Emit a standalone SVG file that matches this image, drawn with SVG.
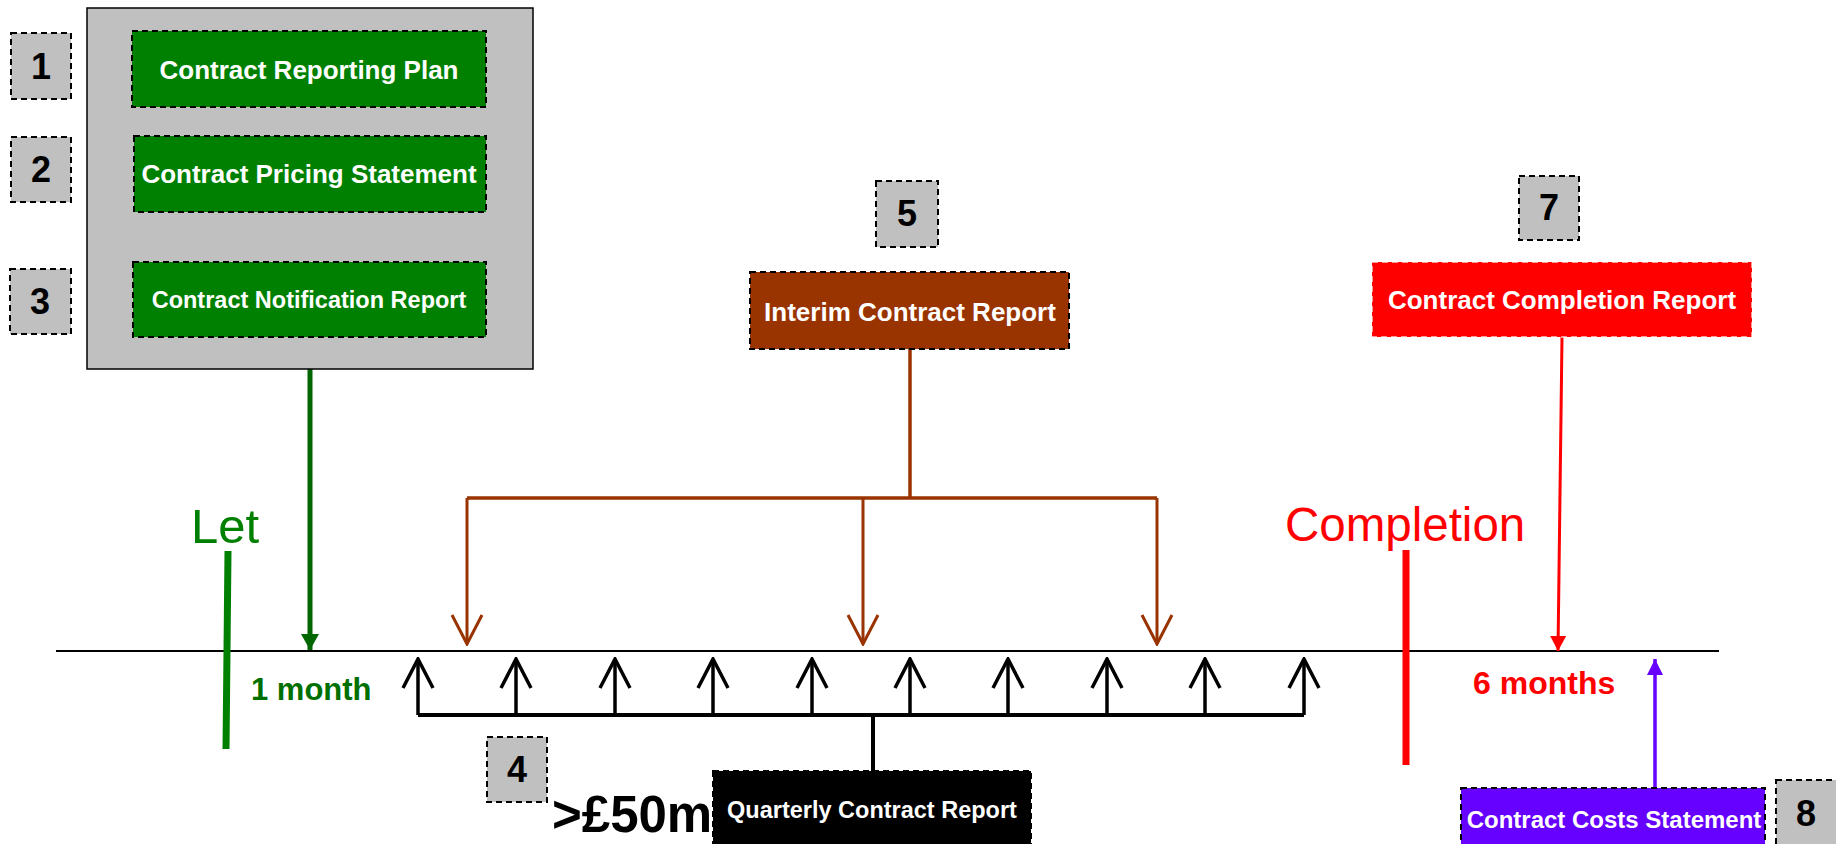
<svg xmlns="http://www.w3.org/2000/svg" width="1836" height="844" viewBox="0 0 1836 844">
<style>
.num{fill:#c0c0c0;stroke:#000;stroke-width:2;stroke-dasharray:6 4}
.numt{font-family:"Liberation Sans",Arial,sans-serif;font-weight:bold;font-size:36px;fill:#000;text-anchor:middle}
.box{stroke:#000;stroke-width:2;stroke-dasharray:6 4}
.bt{font-family:"Liberation Sans",Arial,sans-serif;font-weight:bold;fill:#fff;text-anchor:middle}
.lbl{font-family:"Liberation Sans",Arial,sans-serif}
.ln{fill:none}
</style>
<defs>
<marker id="vBlack" viewBox="-32 -17 34 34" refX="0" refY="0" markerWidth="34" markerHeight="34" markerUnits="userSpaceOnUse" orient="auto">
<path d="M-29,-15 L0,0 L-29,15" fill="none" stroke="#000" stroke-width="3.5"/>
</marker>
<marker id="vBrown" viewBox="-32 -17 34 34" refX="0" refY="0" markerWidth="34" markerHeight="34" markerUnits="userSpaceOnUse" orient="auto">
<path d="M-29,-15 L0,0 L-29,15" fill="none" stroke="#993300" stroke-width="3"/>
</marker>
<marker id="tGreen" viewBox="-18 -10 20 20" refX="0" refY="0" markerWidth="20" markerHeight="20" markerUnits="userSpaceOnUse" orient="auto">
<path d="M-16,-9 L0,0 L-16,9 Z" fill="#006600"/>
</marker>
<marker id="tRed" viewBox="-18 -10 20 20" refX="0" refY="0" markerWidth="20" markerHeight="20" markerUnits="userSpaceOnUse" orient="auto">
<path d="M-15,-8 L0,0 L-15,8 Z" fill="#ff0000"/>
</marker>
<marker id="tPurple" viewBox="-18 -10 20 20" refX="0" refY="0" markerWidth="20" markerHeight="20" markerUnits="userSpaceOnUse" orient="auto">
<path d="M-16,-8 L0,0 L-16,8 Z" fill="#6600ff"/>
</marker>
</defs>
<rect width="1836" height="844" fill="#fff"/>

<g id="connectors">
<line x1="56" y1="651" x2="1719" y2="651" stroke="#000" stroke-width="2"/>
<line x1="310" y1="369" x2="310" y2="650" stroke="#006600" stroke-width="5" marker-end="url(#tGreen)"/>
<path class="ln" d="M910,349 V498 M467,498 H1157" stroke="#993300" stroke-width="3.5"/>
<line x1="467" y1="498" x2="467" y2="644" stroke="#993300" stroke-width="3" marker-end="url(#vBrown)"/>
<line x1="863" y1="498" x2="863" y2="644" stroke="#993300" stroke-width="3" marker-end="url(#vBrown)"/>
<line x1="1157" y1="498" x2="1157" y2="644" stroke="#993300" stroke-width="3" marker-end="url(#vBrown)"/>
<path class="ln" d="M418,715 H1304 M873,715 V771" stroke="#000" stroke-width="4"/>
<g stroke="#000" stroke-width="3.5" marker-end="url(#vBlack)">
<line x1="418" y1="715" x2="418" y2="659"/>
<line x1="516" y1="715" x2="516" y2="659"/>
<line x1="615" y1="715" x2="615" y2="659"/>
<line x1="713" y1="715" x2="713" y2="659"/>
<line x1="812" y1="715" x2="812" y2="659"/>
<line x1="910" y1="715" x2="910" y2="659"/>
<line x1="1008" y1="715" x2="1008" y2="659"/>
<line x1="1107" y1="715" x2="1107" y2="659"/>
<line x1="1205" y1="715" x2="1205" y2="659"/>
<line x1="1304" y1="715" x2="1304" y2="659"/>
</g>
<line x1="1562" y1="337" x2="1558" y2="651" stroke="#ff0000" stroke-width="3" marker-end="url(#tRed)"/>
<line x1="1655" y1="788" x2="1655" y2="659" stroke="#6600ff" stroke-width="3.5" marker-end="url(#tPurple)"/>
</g>

<g id="let">
<line x1="228" y1="551" x2="226" y2="749" stroke="#008000" stroke-width="7"/>
<text class="lbl" x="191" y="543" font-size="49" fill="#008000">Let</text>
<text class="lbl" x="251" y="700" font-size="31" font-weight="bold" fill="#007000">1 month</text>
</g>

<g id="completion">
<line x1="1406" y1="550" x2="1406" y2="765" stroke="#ff0000" stroke-width="7"/>
<text class="lbl" x="1285" y="541" font-size="47.5" fill="#ff0000">Completion</text>
<text class="lbl" x="1473" y="694" font-size="32" font-weight="bold" fill="#ff0000">6 months</text>
</g>

<g id="container">
<rect x="87" y="8" width="446" height="361" fill="#c0c0c0" stroke="#000" stroke-width="1.5"/>
</g>
<g id="node1">
<rect class="num" x="11" y="33" width="60" height="66"/>
<text class="numt" x="41" y="79">1</text>
</g>
<g id="node1box">
<rect class="box" x="132" y="31" width="354" height="76" fill="#008000"/>
<text class="bt" x="309" y="79" font-size="26">Contract Reporting Plan</text>
</g>
<g id="node2">
<rect class="num" x="11" y="137" width="60" height="65"/>
<text class="numt" x="41" y="182">2</text>
</g>
<g id="node2box">
<rect class="box" x="134" y="136" width="352" height="76" fill="#008000"/>
<text class="bt" x="309" y="183" font-size="26">Contract Pricing Statement</text>
</g>
<g id="node3">
<rect class="num" x="10" y="269" width="61" height="65"/>
<text class="numt" x="40" y="314">3</text>
</g>
<g id="node3box">
<rect class="box" x="133" y="262" width="353" height="75" fill="#008000"/>
<text class="bt" x="309" y="308" font-size="23.5">Contract Notification Report</text>
</g>

<g id="node5">
<rect class="num" x="876" y="181" width="62" height="66"/>
<text class="numt" x="907" y="226">5</text>
</g>
<g id="interim">
<rect class="box" x="750" y="272" width="319" height="77" fill="#993300"/>
<text class="bt" x="910" y="321" font-size="26">Interim Contract Report</text>
</g>

<g id="node7">
<rect class="num" x="1519" y="176" width="60" height="64"/>
<text class="numt" x="1549" y="220">7</text>
</g>
<g id="completionReport">
<rect x="1372" y="262" width="380" height="75" fill="#ff0000" stroke="#ffffff" stroke-width="2" stroke-dasharray="6 4" stroke-opacity="0.6"/>
<text class="bt" x="1562" y="309" font-size="26">Contract Completion Report</text>
</g>

<g id="node4">
<rect class="num" x="487" y="737" width="60" height="65"/>
<text class="numt" x="517" y="782">4</text>
<text class="lbl" x="552" y="832" font-size="51" font-weight="bold" fill="#000">&gt;£50m</text>
</g>
<g id="quarterly">
<rect class="box" x="713" y="771" width="318" height="80" fill="#000"/>
<text class="bt" x="872" y="818" font-size="23.5">Quarterly Contract Report</text>
</g>

<g id="costs">
<rect class="box" x="1461" y="788" width="304" height="62" fill="#6600ff"/>
<text class="bt" x="1614" y="828" font-size="24">Contract Costs Statement</text>
</g>
<g id="node8">
<rect class="num" x="1776" y="780" width="62" height="70"/>
<text class="numt" x="1806" y="826">8</text>
</g>
</svg>
